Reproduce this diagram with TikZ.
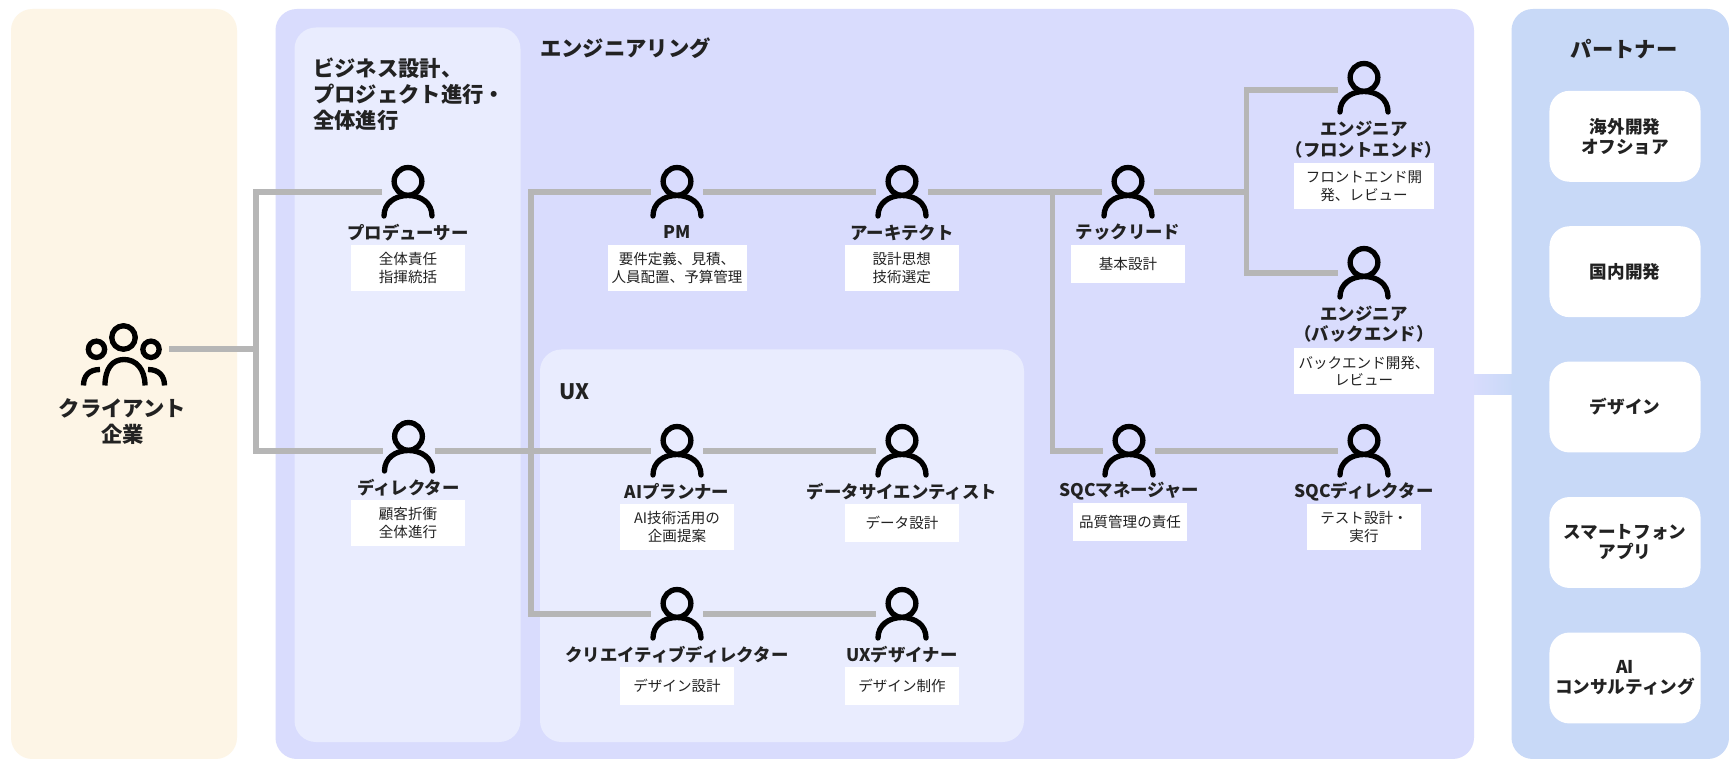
\documentclass[tikz,border=0pt]{standalone}
\usepackage{fontspec}
\setmainfont{Noto Sans CJK JP}
\definecolor{clientbg}{HTML}{FDF5E6}
\definecolor{mainbg}{HTML}{D9DCFD}
\definecolor{innerbg}{HTML}{E9ECFE}
\definecolor{partnerbg}{HTML}{C8D9F7}
\definecolor{conncol}{HTML}{B6B6B6}
\definecolor{inkcol}{HTML}{222222}
\tikzset{
  panel/.style={rounded corners=16pt,draw=none},
  conn/.style={draw=conncol,line width=4.3pt,line join=miter},
  iconline/.style={draw=black,line width=4pt,line cap=round,fill=none},
  iconbox/.style={minimum width=39pt,minimum height=39pt,inner sep=0pt,outer sep=0pt},
  role/.style={inner sep=0pt,align=center,text=inkcol,font=\fontsize{13.05pt}{15.4pt}\selectfont\bfseries},
  detail/.style={fill=white,inner sep=0pt,outer sep=0pt,align=center,text=inkcol,font=\fontsize{10.9pt}{13.3pt}\selectfont},
  section/.style={inner sep=0pt,align=left,text=inkcol,font=\fontsize{16pt}{19.7pt}\selectfont\bfseries},
  partnerbox/.style={fill=white,rounded corners=15pt,inner sep=0pt,outer sep=0pt,minimum width=113.3pt,minimum height=68.2pt,align=center,text=inkcol,font=\fontsize{13.2pt}{15pt}\selectfont\bfseries},
}
% name, x, connector y, icon y
\newcommand{\personicon}[4]{%
  \node[iconbox] (#1) at (#2,#3) {};
  \begin{scope}[shift={(#2,#4)}]
    \draw[iconline] (0,-10.6) circle[radius=10.4pt];
    \draw[iconline] (-24,24) .. controls (-24,11) and (-13,3.5) .. (0,3.5) .. controls (13,3.5) and (24,11) .. (24,24);
  \end{scope}}
% name, x1, y1, x2, y2, text
\newcommand{\detailbox}[6]{%
  \node[detail,minimum width=#4 pt*0.75-#2 pt*0.75,minimum height=#5 pt*0.75-#3 pt*0.75] (#1) at ({(#2+#4)/2},{(#3+#5)/2}) {#6};}
\begin{document}
\begin{tikzpicture}[x=0.75pt,y=-0.75pt]
\useasboundingbox (0,0) rectangle (1729,759);
\fill[white] (0,0) rectangle (1729,759);
% panels
\shade[left color=mainbg,right color=partnerbg] (1470,375) rectangle (1515,395);
\fill[panel,clientbg] (11,9) rectangle (237,759);
\fill[panel,mainbg] (275.5,9) rectangle (1474,759);
\fill[panel,innerbg] (294.5,27.5) rectangle (520.5,742);
\fill[panel,innerbg] (540,349.5) rectangle (1024,742);
\fill[panel,partnerbg] (1511.5,9) rectangle (1729,759);
% person anchors and icons
\node[iconbox,minimum width=67.5pt] (client) at (124,349) {};
\coordinate (j1t) at (256,192);
\coordinate (j1b) at (256,451);
\coordinate (j1m) at (256,349);
\coordinate (j2t) at (531,192);
\coordinate (j2b) at (531,614);
\coordinate (j3t) at (1052.5,192);
\coordinate (j3b) at (1052.5,451);
\coordinate (j4t) at (1246.5,90);
\coordinate (j4b) at (1246.5,272.7);
\coordinate (j4m) at (1246.5,192);
\personicon{prod}{408}{192}{192}
\personicon{dir}{408.5}{451}{447}
\personicon{pm}{677}{192}{192}
\personicon{arch}{902}{192}{192}
\personicon{tl}{1128}{192}{192}
\personicon{engf}{1364}{90}{88}
\personicon{engb}{1364}{272.7}{273}
\personicon{ai}{677}{451}{451}
\personicon{ds}{902}{451}{451}
\personicon{cd}{677}{614}{614}
\personicon{uxd}{902}{614}{614}
\personicon{sqm}{1129}{451}{451}
\personicon{sqd}{1364}{451}{451}
% client icon
\draw[iconline] (123.5,337.5) circle[radius=8.8pt];
\draw[iconline] (96.5,349.3) circle[radius=6.1pt];
\draw[iconline] (151,349.3) circle[radius=6.1pt];
\draw[iconline,line cap=butt] (105,385.5) .. controls (105,369) and (112,359.5) .. (124,359.5) .. controls (136,359.5) and (145,369) .. (145,385.5);
\draw[iconline,line cap=butt] (83.5,385.5) .. controls (83.5,376) and (89,369.5) .. (100,369.5);
\draw[iconline,line cap=butt] (164.5,385.5) .. controls (164.5,376) and (159,369.5) .. (148,369.5);
% connectors
\draw[conn] (client.east) -- (j1m);
\draw[conn] (prod.west) -- (j1t) -- (j1b) -- (dir.west);
\draw[conn] (dir.east) -- (ai.west);
\draw[conn] (pm.west) -- (j2t) -- (j2b) -- (cd.west);
\draw[conn] (cd.east) -- (uxd.west);
\draw[conn] (ai.east) -- (ds.west);
\draw[conn] (pm.east) -- (arch.west);
\draw[conn] (arch.east) -- (tl.west);
\draw[conn] (j3t) -- (j3b) -- (sqm.west);
\draw[conn] (sqm.east) -- (sqd.west);
\draw[conn] (tl.east) -- (j4m);
\draw[conn] (engf.west) -- (j4t) -- (j4b) -- (engb.west);
% section titles
\node[section,anchor=west] (tbiz) at (313,94) {ビジネス設計、\\プロジェクト進行・\\全体進行};
\node[section,anchor=west] (teng) at (540,48.5) {エンジニアリング};
\node[section,anchor=west] (tux) at (559,391.5) {UX};
\node[section,align=center] (tcl) at (122.5,421.5) {クライアント\\企業};
\node[section] (tpa) at (1624,49) {パートナー};
% role labels
\node[role] (lprod) at (408,232.5) {プロデューサー};
\node[role] (lpm) at (677,232.5) {PM};
\node[role] (larch) at (902,232.5) {アーキテクト};
\node[role] (ltl) at (1128,232.5) {テックリード};
\node[role] (lengf) at (1364,139.5) {エンジニア\\（フロントエンド）};
\node[role] (lengb) at (1364,324) {エンジニア\\（バックエンド）};
\node[role] (ldir) at (408.5,488) {ディレクター};
\node[role] (lai) at (677,491.5) {AIプランナー};
\node[role] (lds) at (902,491.5) {データサイエンティスト};
\node[role] (lcd) at (677,655) {クリエイティブディレクター};
\node[role] (luxd) at (902,655) {UXデザイナー};
\node[role] (lsqm) at (1129,491.5) {SQCマネージャー};
\node[role] (lsqd) at (1364,491.5) {SQCディレクター};
% detail boxes
\detailbox{dprod}{351}{245}{465}{291}{全体責任\\指揮統括}
\detailbox{dpm}{607.5}{245}{746.5}{291}{要件定義、見積、\\人員配置、予算管理}
\detailbox{darch}{845}{245}{958.5}{291}{設計思想\\技術選定}
\detailbox{dtl}{1071}{245}{1185}{283}{基本設計}
\detailbox{dengf}{1294}{163}{1434}{209}{フロントエンド開\\発、レビュー}
\detailbox{dengb}{1294}{348}{1434}{394}{バックエンド開発、\\レビュー}
\detailbox{ddir}{351}{500}{465}{546}{顧客折衝\\全体進行}
\detailbox{dai}{620}{504}{734}{550}{AI技術活用の\\企画提案}
\detailbox{dds}{845}{504}{959}{542}{データ設計}
\detailbox{dcd}{620}{667}{734}{705}{デザイン設計}
\detailbox{duxd}{845}{667}{959}{705}{デザイン制作}
\detailbox{dsqm}{1073}{503}{1187}{541}{品質管理の責任}
\detailbox{dsqd}{1307}{504}{1421}{550}{テスト設計・\\実行}
% partner boxes
\node[partnerbox] (b1) at (1625,136.3) {海外開発\\オフショア};
\node[partnerbox] (b2) at (1625,271.7) {国内開発};
\node[partnerbox] (b3) at (1625,407) {デザイン};
\node[partnerbox] (b4) at (1625,542.5) {スマートフォン\\アプリ};
\node[partnerbox] (b5) at (1625,678) {AI\\コンサルティング};
\end{tikzpicture}
\end{document}
